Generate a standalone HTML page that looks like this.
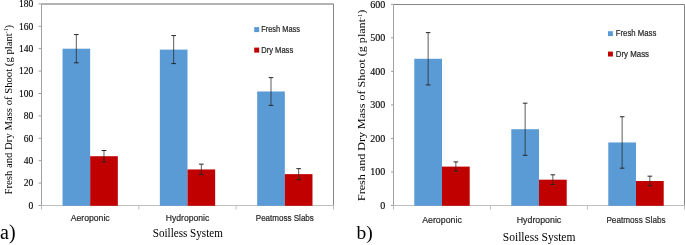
<!DOCTYPE html>
<html><head><meta charset="utf-8"><style>
html,body{margin:0;padding:0;background:#fff;}
svg{display:block;will-change:transform;} 
</style></head><body>
<svg width="685" height="245" viewBox="0 0 685 245">
<rect width="685" height="245" fill="#fff"/>
<line x1="41.5" y1="4.0" x2="333.5" y2="4.0" stroke="#9A9A9A" stroke-width="1.4"/>
<line x1="333.5" y1="4.0" x2="333.5" y2="205.5" stroke="#858585" stroke-width="1"/>
<line x1="41.5" y1="4.0" x2="41.5" y2="209.0" stroke="#A0A0A0" stroke-width="1"/>
<line x1="41.5" y1="205.5" x2="333.5" y2="205.5" stroke="#BEBEBE" stroke-width="1"/>
<rect x="62.52" y="48.70" width="27.65" height="157.10" fill="#5B9BD5"/>
<rect x="90.17" y="156.22" width="27.65" height="49.58" fill="#C00000"/>
<rect x="159.85" y="49.60" width="27.65" height="156.20" fill="#5B9BD5"/>
<rect x="187.50" y="169.44" width="27.65" height="36.36" fill="#C00000"/>
<rect x="257.18" y="91.48" width="27.65" height="114.32" fill="#5B9BD5"/>
<rect x="284.83" y="174.14" width="27.65" height="31.66" fill="#C00000"/>
<line x1="38.5" y1="205.50" x2="41.5" y2="205.50" stroke="#A0A0A0" stroke-width="1"/>
<text x="33.3" y="208.80" font-family="Liberation Serif" font-size="9.5" text-anchor="end" fill="#000" stroke="#000" stroke-width="0.12">0</text>
<line x1="38.5" y1="183.10" x2="41.5" y2="183.10" stroke="#A0A0A0" stroke-width="1"/>
<text x="33.3" y="186.40" font-family="Liberation Serif" font-size="9.5" text-anchor="end" fill="#000" stroke="#000" stroke-width="0.12">20</text>
<line x1="38.5" y1="160.70" x2="41.5" y2="160.70" stroke="#A0A0A0" stroke-width="1"/>
<text x="33.3" y="164.00" font-family="Liberation Serif" font-size="9.5" text-anchor="end" fill="#000" stroke="#000" stroke-width="0.12">40</text>
<line x1="38.5" y1="138.30" x2="41.5" y2="138.30" stroke="#A0A0A0" stroke-width="1"/>
<text x="33.3" y="141.60" font-family="Liberation Serif" font-size="9.5" text-anchor="end" fill="#000" stroke="#000" stroke-width="0.12">60</text>
<line x1="38.5" y1="115.90" x2="41.5" y2="115.90" stroke="#A0A0A0" stroke-width="1"/>
<text x="33.3" y="119.20" font-family="Liberation Serif" font-size="9.5" text-anchor="end" fill="#000" stroke="#000" stroke-width="0.12">80</text>
<line x1="38.5" y1="93.50" x2="41.5" y2="93.50" stroke="#A0A0A0" stroke-width="1"/>
<text x="33.3" y="96.80" font-family="Liberation Serif" font-size="9.5" text-anchor="end" fill="#000" stroke="#000" stroke-width="0.12">100</text>
<line x1="38.5" y1="71.10" x2="41.5" y2="71.10" stroke="#A0A0A0" stroke-width="1"/>
<text x="33.3" y="74.40" font-family="Liberation Serif" font-size="9.5" text-anchor="end" fill="#000" stroke="#000" stroke-width="0.12">120</text>
<line x1="38.5" y1="48.70" x2="41.5" y2="48.70" stroke="#A0A0A0" stroke-width="1"/>
<text x="33.3" y="52.00" font-family="Liberation Serif" font-size="9.5" text-anchor="end" fill="#000" stroke="#000" stroke-width="0.12">140</text>
<line x1="38.5" y1="26.30" x2="41.5" y2="26.30" stroke="#A0A0A0" stroke-width="1"/>
<text x="33.3" y="29.60" font-family="Liberation Serif" font-size="9.5" text-anchor="end" fill="#000" stroke="#000" stroke-width="0.12">160</text>
<line x1="38.5" y1="3.90" x2="41.5" y2="3.90" stroke="#A0A0A0" stroke-width="1"/>
<text x="33.3" y="7.20" font-family="Liberation Serif" font-size="9.5" text-anchor="end" fill="#000" stroke="#000" stroke-width="0.12">180</text>
<line x1="41.50" y1="205.5" x2="41.50" y2="209.5" stroke="#BEBEBE" stroke-width="1"/>
<line x1="138.83" y1="205.5" x2="138.83" y2="209.5" stroke="#BEBEBE" stroke-width="1"/>
<line x1="236.17" y1="205.5" x2="236.17" y2="209.5" stroke="#BEBEBE" stroke-width="1"/>
<line x1="333.50" y1="205.5" x2="333.50" y2="209.5" stroke="#BEBEBE" stroke-width="1"/>
<line x1="76.34" y1="34.59" x2="76.34" y2="62.81" stroke="#262626" stroke-width="0.75"/>
<line x1="74.04" y1="34.59" x2="78.64" y2="34.59" stroke="#262626" stroke-width="1"/>
<line x1="74.04" y1="62.81" x2="78.64" y2="62.81" stroke="#262626" stroke-width="1"/>
<line x1="103.99" y1="150.51" x2="103.99" y2="161.93" stroke="#262626" stroke-width="0.75"/>
<line x1="101.69" y1="150.51" x2="106.29" y2="150.51" stroke="#262626" stroke-width="1"/>
<line x1="101.69" y1="161.93" x2="106.29" y2="161.93" stroke="#262626" stroke-width="1"/>
<line x1="173.67" y1="35.60" x2="173.67" y2="63.60" stroke="#262626" stroke-width="0.75"/>
<line x1="171.37" y1="35.60" x2="175.97" y2="35.60" stroke="#262626" stroke-width="1"/>
<line x1="171.37" y1="63.60" x2="175.97" y2="63.60" stroke="#262626" stroke-width="1"/>
<line x1="201.33" y1="164.17" x2="201.33" y2="174.70" stroke="#262626" stroke-width="0.75"/>
<line x1="199.03" y1="164.17" x2="203.63" y2="164.17" stroke="#262626" stroke-width="1"/>
<line x1="199.03" y1="174.70" x2="203.63" y2="174.70" stroke="#262626" stroke-width="1"/>
<line x1="271.01" y1="77.60" x2="271.01" y2="105.37" stroke="#262626" stroke-width="0.75"/>
<line x1="268.71" y1="77.60" x2="273.31" y2="77.60" stroke="#262626" stroke-width="1"/>
<line x1="268.71" y1="105.37" x2="273.31" y2="105.37" stroke="#262626" stroke-width="1"/>
<line x1="298.66" y1="168.65" x2="298.66" y2="179.63" stroke="#262626" stroke-width="0.75"/>
<line x1="296.36" y1="168.65" x2="300.96" y2="168.65" stroke="#262626" stroke-width="1"/>
<line x1="296.36" y1="179.63" x2="300.96" y2="179.63" stroke="#262626" stroke-width="1"/>
<text x="90.17" y="221.3" font-family="Liberation Sans" font-size="9.2" text-anchor="middle" fill="#262626" stroke="#262626" stroke-width="0.2" textLength="39" lengthAdjust="spacingAndGlyphs">Aeroponic</text>
<text x="187.50" y="221.3" font-family="Liberation Sans" font-size="9.2" text-anchor="middle" fill="#262626" stroke="#262626" stroke-width="0.2" textLength="43.5" lengthAdjust="spacingAndGlyphs">Hydroponic</text>
<text x="284.83" y="221.3" font-family="Liberation Sans" font-size="9.2" text-anchor="middle" fill="#262626" stroke="#262626" stroke-width="0.2" textLength="58.1" lengthAdjust="spacingAndGlyphs">Peatmoss Slabs</text>
<rect x="254.2" y="27.099999999999998" width="5" height="5" fill="#5B9BD5"/>
<rect x="254.2" y="47.599999999999994" width="5" height="5" fill="#C00000"/>
<text x="261.2" y="32.3" font-family="Liberation Sans" font-size="8.2" fill="#262626" stroke="#262626" stroke-width="0.2" textLength="38.8" lengthAdjust="spacingAndGlyphs">Fresh Mass</text>
<text x="261.2" y="52.8" font-family="Liberation Sans" font-size="8.2" fill="#262626" stroke="#262626" stroke-width="0.2" textLength="32" lengthAdjust="spacingAndGlyphs">Dry Mass</text>
<text transform="translate(11.7,109.7) rotate(-90)" x="0" y="0" font-family="Liberation Serif" font-size="10.2" text-anchor="middle" fill="#000" textLength="169.5" lengthAdjust="spacingAndGlyphs">Fresh and Dry Mass of Shoot (g plant<tspan font-size="5.30" dy="-3.47">-1</tspan><tspan dy="3.47">)</tspan></text>
<text x="187.8" y="237.2" font-family="Liberation Serif" font-size="12.6" text-anchor="middle" fill="#000" textLength="70.2" lengthAdjust="spacingAndGlyphs">Soilless System</text>
<text x="0" y="239.2" font-family="Liberation Serif" font-size="20" fill="#000">a)</text>
<line x1="393.5" y1="4.5" x2="684.5" y2="4.5" stroke="#858585" stroke-width="1"/>
<line x1="684.5" y1="4.5" x2="684.5" y2="205.5" stroke="#858585" stroke-width="1"/>
<line x1="393.5" y1="4.5" x2="393.5" y2="209.0" stroke="#A0A0A0" stroke-width="1"/>
<line x1="393.5" y1="205.5" x2="684.5" y2="205.5" stroke="#BEBEBE" stroke-width="1"/>
<rect x="414.29" y="58.79" width="27.71" height="147.01" fill="#5B9BD5"/>
<rect x="442.00" y="166.60" width="27.71" height="39.20" fill="#C00000"/>
<rect x="511.29" y="129.21" width="27.71" height="76.59" fill="#5B9BD5"/>
<rect x="539.00" y="179.68" width="27.71" height="26.12" fill="#C00000"/>
<rect x="608.29" y="142.46" width="27.71" height="63.34" fill="#5B9BD5"/>
<rect x="636.00" y="181.02" width="27.71" height="24.78" fill="#C00000"/>
<line x1="391.0" y1="205.50" x2="393.5" y2="205.50" stroke="#A0A0A0" stroke-width="1"/>
<text x="385.3" y="209.00" font-family="Liberation Serif" font-size="10" text-anchor="end" fill="#000" stroke="#000" stroke-width="0.12">0</text>
<line x1="391.0" y1="171.97" x2="393.5" y2="171.97" stroke="#A0A0A0" stroke-width="1"/>
<text x="385.3" y="175.47" font-family="Liberation Serif" font-size="10" text-anchor="end" fill="#000" stroke="#000" stroke-width="0.12">100</text>
<line x1="391.0" y1="138.43" x2="393.5" y2="138.43" stroke="#A0A0A0" stroke-width="1"/>
<text x="385.3" y="141.93" font-family="Liberation Serif" font-size="10" text-anchor="end" fill="#000" stroke="#000" stroke-width="0.12">200</text>
<line x1="391.0" y1="104.90" x2="393.5" y2="104.90" stroke="#A0A0A0" stroke-width="1"/>
<text x="385.3" y="108.40" font-family="Liberation Serif" font-size="10" text-anchor="end" fill="#000" stroke="#000" stroke-width="0.12">300</text>
<line x1="391.0" y1="71.37" x2="393.5" y2="71.37" stroke="#A0A0A0" stroke-width="1"/>
<text x="385.3" y="74.87" font-family="Liberation Serif" font-size="10" text-anchor="end" fill="#000" stroke="#000" stroke-width="0.12">400</text>
<line x1="391.0" y1="37.83" x2="393.5" y2="37.83" stroke="#A0A0A0" stroke-width="1"/>
<text x="385.3" y="41.33" font-family="Liberation Serif" font-size="10" text-anchor="end" fill="#000" stroke="#000" stroke-width="0.12">500</text>
<line x1="391.0" y1="4.30" x2="393.5" y2="4.30" stroke="#A0A0A0" stroke-width="1"/>
<text x="385.3" y="7.80" font-family="Liberation Serif" font-size="10" text-anchor="end" fill="#000" stroke="#000" stroke-width="0.12">600</text>
<line x1="393.50" y1="205.5" x2="393.50" y2="209.5" stroke="#BEBEBE" stroke-width="1"/>
<line x1="490.50" y1="205.5" x2="490.50" y2="209.5" stroke="#BEBEBE" stroke-width="1"/>
<line x1="587.50" y1="205.5" x2="587.50" y2="209.5" stroke="#BEBEBE" stroke-width="1"/>
<line x1="684.50" y1="205.5" x2="684.50" y2="209.5" stroke="#BEBEBE" stroke-width="1"/>
<line x1="428.14" y1="32.64" x2="428.14" y2="84.95" stroke="#262626" stroke-width="0.75"/>
<line x1="425.84" y1="32.64" x2="430.44" y2="32.64" stroke="#262626" stroke-width="1"/>
<line x1="425.84" y1="84.95" x2="430.44" y2="84.95" stroke="#262626" stroke-width="1"/>
<line x1="455.86" y1="161.91" x2="455.86" y2="171.30" stroke="#262626" stroke-width="0.75"/>
<line x1="453.56" y1="161.91" x2="458.16" y2="161.91" stroke="#262626" stroke-width="1"/>
<line x1="453.56" y1="171.30" x2="458.16" y2="171.30" stroke="#262626" stroke-width="1"/>
<line x1="525.14" y1="103.16" x2="525.14" y2="155.27" stroke="#262626" stroke-width="0.75"/>
<line x1="522.84" y1="103.16" x2="527.44" y2="103.16" stroke="#262626" stroke-width="1"/>
<line x1="522.84" y1="155.27" x2="527.44" y2="155.27" stroke="#262626" stroke-width="1"/>
<line x1="552.86" y1="174.82" x2="552.86" y2="184.54" stroke="#262626" stroke-width="0.75"/>
<line x1="550.56" y1="174.82" x2="555.16" y2="174.82" stroke="#262626" stroke-width="1"/>
<line x1="550.56" y1="184.54" x2="555.16" y2="184.54" stroke="#262626" stroke-width="1"/>
<line x1="622.14" y1="116.74" x2="622.14" y2="168.18" stroke="#262626" stroke-width="0.75"/>
<line x1="619.84" y1="116.74" x2="624.44" y2="116.74" stroke="#262626" stroke-width="1"/>
<line x1="619.84" y1="168.18" x2="624.44" y2="168.18" stroke="#262626" stroke-width="1"/>
<line x1="649.86" y1="176.16" x2="649.86" y2="185.88" stroke="#262626" stroke-width="0.75"/>
<line x1="647.56" y1="176.16" x2="652.16" y2="176.16" stroke="#262626" stroke-width="1"/>
<line x1="647.56" y1="185.88" x2="652.16" y2="185.88" stroke="#262626" stroke-width="1"/>
<text x="442.00" y="223.3" font-family="Liberation Sans" font-size="9.8" text-anchor="middle" fill="#262626" stroke="#262626" stroke-width="0.2" textLength="39.6" lengthAdjust="spacingAndGlyphs">Aeroponic</text>
<text x="539.00" y="223.3" font-family="Liberation Sans" font-size="9.8" text-anchor="middle" fill="#262626" stroke="#262626" stroke-width="0.2" textLength="44.5" lengthAdjust="spacingAndGlyphs">Hydroponic</text>
<text x="636.00" y="223.3" font-family="Liberation Sans" font-size="9.8" text-anchor="middle" fill="#262626" stroke="#262626" stroke-width="0.2" textLength="59.2" lengthAdjust="spacingAndGlyphs">Peatmoss Slabs</text>
<rect x="608" y="31.2" width="4.9" height="4.9" fill="#5B9BD5"/>
<rect x="608" y="51.6" width="4.9" height="4.9" fill="#C00000"/>
<text x="615.8" y="36.3" font-family="Liberation Sans" font-size="8.6" fill="#262626" stroke="#262626" stroke-width="0.2" textLength="40.5" lengthAdjust="spacingAndGlyphs">Fresh Mass</text>
<text x="615.8" y="56.7" font-family="Liberation Sans" font-size="8.6" fill="#262626" stroke="#262626" stroke-width="0.2" textLength="33.2" lengthAdjust="spacingAndGlyphs">Dry Mass</text>
<text transform="translate(365.4,105.4) rotate(-90)" x="0" y="0" font-family="Liberation Serif" font-size="11.2" text-anchor="middle" fill="#000" textLength="191.3" lengthAdjust="spacingAndGlyphs">Fresh and Dry Mass of Shoot (g plant<tspan font-size="5.82" dy="-3.81">-1</tspan><tspan dy="3.81">)</tspan></text>
<text x="539.1" y="241.2" font-family="Liberation Serif" font-size="13.5" text-anchor="middle" fill="#000" textLength="72.6" lengthAdjust="spacingAndGlyphs">Soilless System</text>
<text x="356.5" y="239.2" font-family="Liberation Serif" font-size="19.5" fill="#000">b)</text>
</svg>
</body></html>
